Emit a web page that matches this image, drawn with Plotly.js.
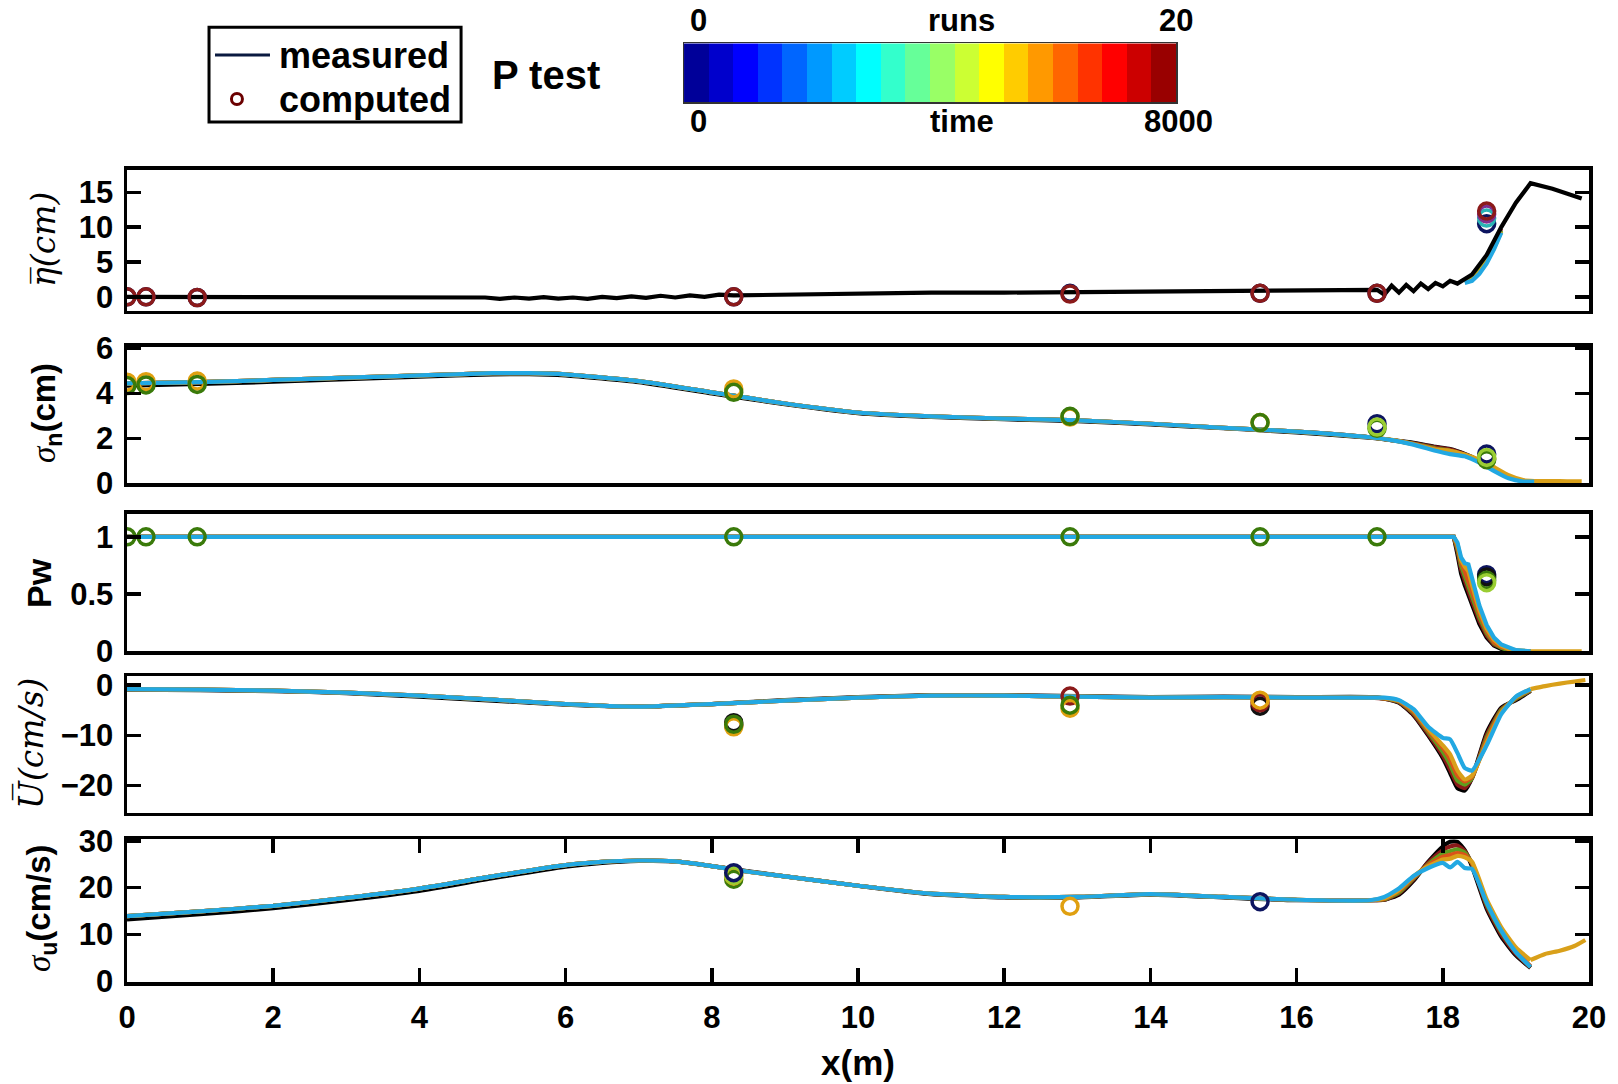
<!DOCTYPE html>
<html><head><meta charset="utf-8">
<script src="https://cdn.plot.ly/plotly-3.0.1.min.js"></script>
<style>body{margin:0;background:#fff}</style>
</head><body><div id="chart" style="width:1618px;height:1084px"></div>
<script>
// ---------- colour bar (runs) ----------
const cbRuns = [1,2,3,4,5,6,7,8,9,10,11,12,13,14,15,16,17,18,19,20];
const jet20 = ['#000099','#0000CC','#0000FF','#0033FF','#0066FF','#0099FF','#00CCFF','#00FFFF','#33FFCC','#66FF99',
               '#99FF66','#CCFF33','#FFFF00','#FFCC00','#FF9900','#FF6600','#FF3300','#FF0000','#CC0000','#990000'];
const cbTop = ['0','runs','20'];
const cbBottom = ['0','time','8000'];

// ---------- gauges (computed, circles) ----------
const gaugeX = [0.0, 0.26, 0.96, 8.3, 12.9, 15.5, 17.1, 18.6];

// ---------- panel 1 : mean eta ----------
const p1X = [0,2,4,4.9,5.1,5.3,5.5,5.7,5.9,6.1,6.3,6.5,6.7,6.9,7.1,7.3,7.5,7.7,7.9,8.1,8.3,9,10,11,12,13,14,15,16,
             17.1,17.2,17.3,17.4,17.5,17.6,17.7,17.8,17.9,18.0,18.1,18.2,18.3,18.4,18.6,18.8,19.0,19.2,19.5,19.9];
const p1Black = [0,0,-0.1,-0.1,-0.3,-0.1,-0.25,-0.05,-0.25,-0.1,-0.3,0,-0.2,0.05,-0.15,0.15,-0.1,0.2,0,0.3,0.2,0.3,0.5,0.6,0.6,0.7,0.8,0.9,0.9,
             1.0,0.3,1.6,0.6,1.7,0.8,1.9,1.1,2.0,1.5,2.3,1.9,2.5,3.2,6.0,10.0,13.5,16.3,15.5,14.1];
const p1NearX = [18.3,18.4,18.5,18.6,18.7,18.8];
const p1DarkRed = [2.4,2.8,4.2,5.8,7.8,9.8];
const p1Green = [2.2,2.6,3.8,5.3,7.3,9.5];
const p1Gold = [2.1,2.4,3.5,5.0,7.0,9.3];
const p1LightBlue = [2.0,2.3,3.3,4.8,6.8,9.2];
const c1Navy = [0,0,-0.1,0,0.5,0.5,0.5,10.5];
const c1Teal = [null,null,null,null,null,null,null,11.3];
const c1Purple = [null,null,null,null,null,null,null,11.9];
const c1DarkRed = [0,0,-0.1,0,0.4,0.5,0.5,12.3];

// ---------- panel 2 : sigma_n ----------
const p2OffX = [0,1,2,3,4,5,5.5,6,7,8,8.5,9,10,11,12,13,14,15,16,17];
const p2Off = [4.45,4.5,4.6,4.7,4.8,4.9,4.9,4.85,4.55,4.05,3.8,3.55,3.15,2.98,2.88,2.8,2.65,2.47,2.3,2.05];
const p2OffBlack = [4.35,4.42,4.52,4.63,4.75,4.85,4.86,4.8,4.5,4.0,3.76,3.52,3.12,2.95,2.85,2.77,2.62,2.45,2.27,2.03];
const p2NearX = [17.3,17.6,17.9,18.1,18.3,18.5,18.7,18.9,19.1,19.25];
const p2Black = [1.92,1.80,1.62,1.52,1.30,1.00,0.65,0.30,0.10,0.08];
const p2DarkRed = [1.92,1.78,1.60,1.50,1.28,0.98,0.62,0.28,0.10,0.08];
const p2Green = [1.92,1.76,1.55,1.45,1.25,0.97,0.62,0.28,0.10,0.08];
const p2Orange = [1.92,1.75,1.52,1.42,1.22,0.98,0.65,0.30,0.11,0.08];
const p2Gold = [1.93,1.74,1.50,1.45,1.28,1.05,0.72,0.36,0.14,0.10];
const p2LightBlue = [1.92,1.72,1.45,1.30,1.20,0.92,0.55,0.22,0.08,0.07];
const p2TailX = [19.25,19.5,19.7,19.9];
const p2Tail = [0.10,0.10,0.09,0.08];
const c2Navy = [null,null,null,null,null,null,2.65,1.3];
const c2Gold = [4.5,4.52,4.55,4.2,2.95,2.7,null,1.1];
const c2Green = [4.35,4.38,4.4,4.05,2.98,2.7,2.45,1.05];
const c2Lime = [null,null,null,null,null,null,2.5,1.15];

// ---------- panel 3 : Pw ----------
const p3OffX = [0,17,18.15];
const p3Off = [1,1,1];
const p3NearX = [18.2,18.25,18.3,18.35,18.4,18.5,18.6,18.7,18.8,18.9,19.0,19.2];
const p3Black = [0.85,0.68,0.58,0.50,0.40,0.24,0.12,0.05,0.02,0.01,0.0,0.0];
const p3DarkRed = [0.88,0.72,0.62,0.54,0.44,0.27,0.14,0.06,0.03,0.01,0.0,0.0];
const p3Green = [0.90,0.75,0.66,0.58,0.48,0.30,0.16,0.07,0.03,0.01,0.0,0.0];
const p3Orange = [0.92,0.78,0.70,0.62,0.52,0.33,0.18,0.08,0.04,0.02,0.0,0.0];
const p3Gold = [0.94,0.80,0.74,0.70,0.58,0.36,0.20,0.10,0.05,0.02,0.01,0.0];
const p3LightBlue = [0.95,0.82,0.77,0.76,0.64,0.40,0.23,0.12,0.06,0.03,0.01,0.0];
const p3TailX = [19.2,19.5,19.9];
const p3Tail = [0,0,0];
const c3Navy = [null,null,null,null,null,null,null,0.67];
const c3Black = [null,null,null,null,null,null,null,0.65];
const c3Green = [1,1,1,1,1,1,1,0.62];
const c3Lime = [null,null,null,null,null,null,null,0.60];

// ---------- panel 4 : mean U ----------
const p4OffX = [0,1,2,3,4,5,6,7,8,9,10,11,12,13,14,15,16,17];
const p4Off = [-0.8,-0.9,-1.1,-1.5,-2.1,-2.9,-3.8,-4.3,-3.8,-3.1,-2.5,-2.1,-2.1,-2.3,-2.5,-2.4,-2.5,-2.5];
const p4OffBlack = [-0.9,-1.0,-1.2,-1.6,-2.3,-3.1,-3.9,-4.3,-3.8,-3.0,-2.4,-2.0,-2.0,-2.2,-2.4,-2.3,-2.4,-2.4];
const p4NearX = [17.2,17.4,17.6,17.8,18.0,18.1,18.2,18.3,18.4,18.6,18.8,19.0,19.2];
const p4Black = [-2.7,-3.5,-6.0,-10.0,-14.5,-17.5,-20.5,-21.0,-18.5,-9.5,-4.5,-3.0,-1.2];
const p4DarkRed = [-2.7,-3.4,-5.8,-9.7,-14.0,-16.8,-19.8,-20.5,-18.5,-10.0,-4.8,-2.8,-1.1];
const p4Green = [-2.6,-3.3,-5.5,-9.3,-13.3,-15.8,-19.0,-19.8,-18.5,-10.5,-5.0,-2.7,-1.0];
const p4Orange = [-2.6,-3.2,-5.3,-9.0,-12.5,-14.8,-18.0,-19.2,-18.3,-11.0,-5.3,-2.5,-0.9];
const p4Gold = [-2.6,-3.1,-5.0,-8.7,-12.0,-13.8,-17.0,-18.8,-18.0,-11.5,-5.5,-2.4,-0.8];
const p4LightBlue = [-2.5,-3.0,-4.8,-8.3,-10.5,-10.8,-13.5,-16.5,-17.0,-12.0,-5.8,-2.3,-0.8];
const p4TailX = [19.2,19.4,19.6,19.8,19.95];
const p4Tail = [-0.8,-0.2,0.3,0.7,1.0];
const c4Black = [null,null,null,-7.5,null,-4.2,null,null];
const c4DarkRed = [null,null,null,-8.0,-2.2,-3.5,null,null];
const c4Gold = [null,null,null,-8.3,-4.6,-3.0,null,null];
const c4Green = [null,null,null,-7.8,-4.0,null,null,null];

// ---------- panel 5 : sigma_u ----------
const p5OffX = [0,1,2,3,4,5,6,6.5,7,7.5,8,8.5,9,10,11,12,13,14,15,16,17];
const p5Off = [13.9,14.9,16.1,17.8,19.8,22.4,24.8,25.5,25.8,25.6,24.6,23.4,22.4,20.4,18.7,18.0,18.0,18.6,18.0,17.4,17.3];
const p5OffBlack = [13.2,14.3,15.6,17.3,19.3,22.0,24.5,25.3,25.7,25.6,24.6,23.5,22.4,20.4,18.6,17.9,17.9,18.5,17.9,17.3,17.3];
const p5NearX = [17.2,17.4,17.6,17.8,18.0,18.1,18.2,18.3,18.4,18.6,18.8,19.0,19.2];
const p5Black = [17.4,18.5,21.5,25.5,28.8,29.8,29.8,28.0,24.5,15.5,9.5,5.5,2.8];
const p5DarkRed = [17.4,18.8,21.8,25.3,28.0,28.8,29.0,27.8,25.0,16.0,10.0,5.8,2.9];
const p5Green = [17.5,19.0,22.0,25.0,27.3,27.8,28.2,27.5,25.2,16.5,10.5,6.2,3.0];
const p5Orange = [17.6,19.3,22.2,24.8,26.6,27.0,27.4,27.0,25.3,17.0,11.0,6.5,3.2];
const p5Gold = [17.7,19.5,22.4,24.6,26.0,26.2,26.8,26.5,25.5,17.5,11.5,7.2,4.5];
const p5LightBlue = [18.0,19.8,22.5,24.2,25.3,24.3,25.5,24.2,24.0,16.8,10.8,6.2,3.0];
const p5TailX = [19.2,19.4,19.6,19.8,19.95];
const p5Tail = [4.5,5.8,6.5,7.5,8.8];
const c5Green = [null,null,null,21.8,null,null,null,null];
const c5Gold = [null,null,null,22.5,16.0,null,null,null];
const c5Navy = [null,null,null,23.2,null,17.0,null,null];
const c5Lime = [null,null,null,22.6,null,null,null,null];

// ---------- styles ----------
const C = {black:'#000000', darkred:'#8B1A1A', green:'#5E9E1E', orange:'#D95319', gold:'#D9A01A',
           lightblue:'#22A8E2', navy:'#0D1560', teal:'#2AB5B5', purple:'#7E2F8E', lime:'#9ACD32',
           cgreen:'#3A7A0A', cgold:'#E0A010', cdark:'#111111'};
const LW = 4.2;
const traces = [];
function line(ax, x, y, color, shape) {
  traces.push({type:'scatter', mode:'lines', x:x, y:y, xaxis:'x'+ax, yaxis:'y'+ax,
    line:{color:color, width:LW, shape:shape||'spline', smoothing:0.5}, hoverinfo:'skip'});
}
function circles(ax, y, color) {
  traces.push({type:'scatter', mode:'markers', x:gaugeX, y:y, xaxis:'x'+ax, yaxis:'y'+ax,
    marker:{symbol:'circle-open', size:16, color:color, line:{width:3.5, color:color}}, hoverinfo:'skip'});
}

// panel 1
line(1, p1NearX, p1DarkRed, C.darkred, 'linear');
line(1, p1NearX, p1Green, C.green, 'linear');
line(1, p1NearX, p1Gold, C.gold, 'linear');
line(1, p1NearX, p1LightBlue, C.lightblue, 'linear');
line(1, p1X, p1Black, C.black, 'linear');
circles(1, c1Navy, C.navy); circles(1, c1Teal, C.teal); circles(1, c1Purple, C.purple); circles(1, c1DarkRed, C.darkred);

// panel 2
line(2, p2OffX.concat(p2NearX), p2OffBlack.concat(p2Black), C.black);
line(2, p2OffX.concat(p2NearX), p2Off.concat(p2DarkRed), C.darkred);
line(2, p2OffX.concat(p2NearX), p2Off.concat(p2Green), C.green);
line(2, p2OffX.concat(p2NearX), p2Off.concat(p2Orange), C.orange);
line(2, p2OffX.concat(p2NearX), p2Off.concat(p2Gold), C.gold);
line(2, p2TailX, p2Tail, C.gold);
line(2, p2OffX.concat(p2NearX), p2Off.concat(p2LightBlue), C.lightblue);
circles(2, c2Navy, C.navy); circles(2, c2Gold, C.cgold); circles(2, c2Green, C.cgreen); circles(2, c2Lime, C.lime);

// panel 3
line(3, p3OffX.concat(p3NearX), p3Off.concat(p3Black), C.black, 'linear');
line(3, p3OffX.concat(p3NearX), p3Off.concat(p3DarkRed), C.darkred, 'linear');
line(3, p3OffX.concat(p3NearX), p3Off.concat(p3Green), C.green, 'linear');
line(3, p3OffX.concat(p3NearX), p3Off.concat(p3Orange), C.orange, 'linear');
line(3, p3OffX.concat(p3NearX), p3Off.concat(p3Gold), C.gold, 'linear');
line(3, p3TailX, p3Tail, C.gold, 'linear');
line(3, p3OffX.concat(p3NearX), p3Off.concat(p3LightBlue), C.lightblue, 'linear');
circles(3, c3Navy, C.navy); circles(3, c3Black, C.cdark); circles(3, c3Green, C.cgreen); circles(3, c3Lime, C.lime);

// panel 4
line(4, p4OffX.concat(p4NearX), p4OffBlack.concat(p4Black), C.black);
line(4, p4OffX.concat(p4NearX), p4Off.concat(p4DarkRed), C.darkred);
line(4, p4OffX.concat(p4NearX), p4Off.concat(p4Green), C.green);
line(4, p4OffX.concat(p4NearX), p4Off.concat(p4Orange), C.orange);
line(4, p4OffX.concat(p4NearX), p4Off.concat(p4Gold), C.gold);
line(4, p4TailX, p4Tail, C.gold);
line(4, p4OffX.concat(p4NearX), p4Off.concat(p4LightBlue), C.lightblue);
circles(4, c4Black, C.cdark); circles(4, c4DarkRed, C.darkred); circles(4, c4Gold, C.cgold); circles(4, c4Green, C.cgreen);

// panel 5
line(5, p5OffX.concat(p5NearX), p5OffBlack.concat(p5Black), C.black);
line(5, p5OffX.concat(p5NearX), p5Off.concat(p5DarkRed), C.darkred);
line(5, p5OffX.concat(p5NearX), p5Off.concat(p5Green), C.green);
line(5, p5OffX.concat(p5NearX), p5Off.concat(p5Orange), C.orange);
line(5, p5OffX.concat(p5NearX), p5Off.concat(p5Gold), C.gold);
line(5, p5TailX, p5Tail, C.gold);
line(5, p5OffX.concat(p5NearX), p5Off.concat(p5LightBlue), C.lightblue);
circles(5, c5Green, C.cgreen); circles(5, c5Gold, C.cgold); circles(5, c5Lime, C.lime); circles(5, c5Navy, C.navy);

// colour bar as a heatmap
const cscale = [];
jet20.forEach((c, i) => { cscale.push([i/20, c]); cscale.push([(i+1)/20, c]); });
traces.push({type:'heatmap', x:cbRuns, y:[0], z:[cbRuns], xaxis:'x6', yaxis:'y6',
  colorscale:cscale, zmin:0.5, zmax:20.5, showscale:false, hoverinfo:'skip'});

// ---------- layout ----------
const FONT = 'Liberation Sans, Arial, sans-serif';
const SERIF = 'DejaVu Serif, Liberation Serif, serif';
const tickFont = {family:FONT, size:31, color:'#000', weight:'bold'};
const doms = [[0.6906,0.8354],[0.5131,0.6536],[0.3402,0.4815],[0.1742,0.3148],[0,0.1471]];
const yRanges = [[-2.0,18.2],[0,6.08],[0,1.2],[-25.4,1.8],[-0.2,30.4]];
const yTicks = [[0,5,10,15],[0,2,4,6],[0,0.5,1],[-20,-10,0],[0,10,20,30]];

const layout = {width:1618, height:1084, margin:{l:127, r:29, t:10, b:102},
  paper_bgcolor:'#fff', plot_bgcolor:'#fff', showlegend:false, font:{family:FONT, color:'#000'},
  annotations:[], shapes:[]};

for (let i = 1; i <= 5; i++) {
  const last = (i === 5);
  layout['xaxis'+i] = {domain:[0,1], anchor:'y'+i, range:[0,20], showgrid:false, zeroline:false,
    showline:true, mirror:last ? 'ticks' : true, linecolor:'#000', linewidth:3.5,
    ticks:last ? 'inside' : '', ticklen:14, tickwidth:3.5, tickcolor:'#000', dtick:2, tick0:0,
    showticklabels:last, tickfont:tickFont, ticklabelstandoff:5};
  layout['yaxis'+i] = {domain:doms[i-1], anchor:'x'+i, range:yRanges[i-1], showgrid:false, zeroline:false,
    showline:true, mirror:'ticks', linecolor:'#000', linewidth:3.5,
    ticks:'inside', ticklen:14, tickwidth:3.5, tickcolor:'#000', tickvals:yTicks[i-1],
    tickfont:tickFont, ticklabelstandoff:4};
}
layout.xaxis5.title = {text:'x(m)', font:{family:FONT, size:35, weight:'bold', color:'#000'}, standoff:18};

layout.xaxis6 = {domain:[0.381,0.7178], anchor:'y6', range:[0.5,20.5], showgrid:false, zeroline:false,
  showline:true, mirror:true, linecolor:'#333', linewidth:1.5, ticks:'', showticklabels:false};
layout.yaxis6 = {domain:[0.9051,0.9657], anchor:'x6', range:[-0.5,0.5], showgrid:false, zeroline:false,
  showline:true, mirror:true, linecolor:'#333', linewidth:1.5, ticks:'', showticklabels:false};

const ann = layout.annotations;
function A(text, x, y, size, extra) {
  ann.push(Object.assign({text:text, x:x, y:y, xref:'paper', yref:'paper', showarrow:false,
    xanchor:'center', yanchor:'middle', font:{family:FONT, size:size, color:'#000', weight:'bold'}}, extra||{}));
}
// colour bar labels
A(cbTop[0], 0.3912, 0.9887, 31); A(cbTop[1], 0.5711, 0.9887, 31); A(cbTop[2], 0.7175, 0.9887, 31);
A(cbBottom[0], 0.3912, 0.8858, 31); A(cbBottom[1], 0.5711, 0.8858, 31); A(cbBottom[2], 0.7189, 0.8858, 31);
// title
A('P test', 0.2866, 0.9331, 40);
// legend
A('measured', 0.1026, 0.9537, 36, {xanchor:'left'});
A('computed', 0.1026, 0.9084, 36, {xanchor:'left'});
layout.shapes.push({type:'rect', xref:'paper', yref:'paper', x0:0.0561, x1:0.2285, y0:0.8848, y1:0.9822,
  line:{color:'#000', width:3}, fillcolor:'rgba(0,0,0,0)'});
layout.shapes.push({type:'line', xref:'paper', yref:'paper', x0:0.0602, x1:0.0978, y0:0.9537, y1:0.9537,
  line:{color:'#0A1A40', width:3}});
layout.shapes.push({type:'circle', xref:'paper', yref:'paper', xsizemode:'pixel', ysizemode:'pixel',
  xanchor:0.0752, yanchor:0.9084, x0:-5.5, x1:5.5, y0:-5.5, y1:5.5, line:{color:'#6B0000', width:3}});
// y titles
const serifSpan = s => "<span style='font-family:Liberation Serif;font-style:italic;font-weight:normal'>" + s + "</span>";
A('\u03B7\u0305(cm)', -0.0575, 0.7644, 34, {textangle:-90, font:{family:SERIF, size:33, style:'italic', weight:'normal', color:'#000'}});
A(serifSpan('σ') + '<sub>n</sub>(cm)', -0.0554, 0.5854, 33, {textangle:-90});
A('Pw', -0.0602, 0.4105, 34, {textangle:-90});
A('U\u0305(cm/s)', -0.0657, 0.2459, 34, {textangle:-90, font:{family:SERIF, size:33, style:'italic', weight:'normal', color:'#000'}});
A(serifSpan('σ') + '<sub>u</sub>(cm/s)', -0.0588, 0.0761, 33, {textangle:-90});

Plotly.newPlot('chart', traces, layout, {staticPlot:true, displayModeBar:false});
</script></body></html>
